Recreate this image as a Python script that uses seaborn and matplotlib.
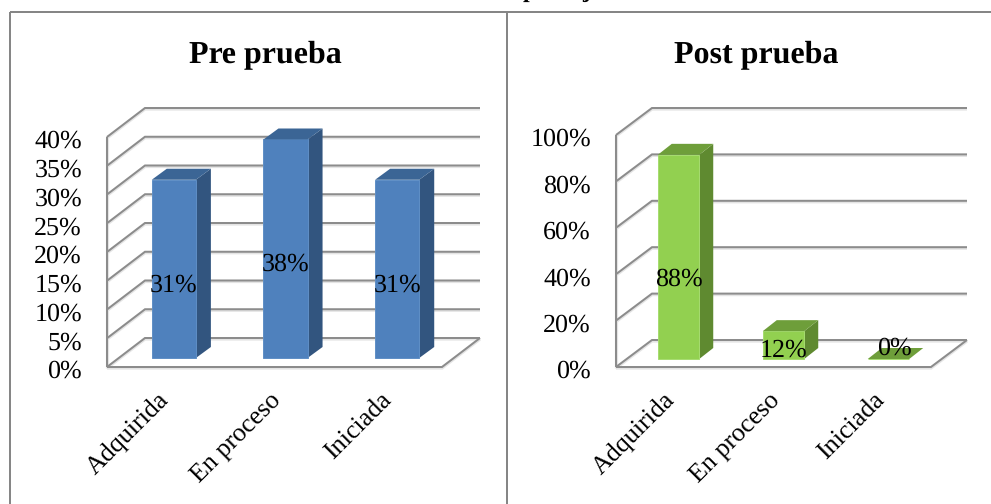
import matplotlib
matplotlib.use("Agg")
import matplotlib.pyplot as plt
from matplotlib.lines import Line2D
from matplotlib.patches import Polygon
from matplotlib.transforms import Affine2D
import pandas as pd
import seaborn as sns

categories = ["Adquirida", "En proceso", "Iniciada"]
pre_values = [31, 38, 31]
post_values = [88, 12, 0]
pre_ticks = [0, 5, 10, 15, 20, 25, 30, 35, 40]
post_ticks = [0, 20, 40, 60, 80, 100]

W, H = 991, 504
DPI = 100
GRID = "#8c8c8c"
FONT = 19
px = 72 / DPI  # one output pixel, in points

sns.set_theme(style="white")
plt.rcParams["font.family"] = ["Liberation Serif", "DejaVu Serif"]
plt.rcParams["text.hinting"] = "none"
plt.rcParams["text.hinting_factor"] = 1

fig = plt.figure(figsize=(W / DPI, H / DPI), dpi=DPI, facecolor="white")


def panel(title, values, ticks, box, depth, bar_shift, bar_depth, bar_width,
          colors, label_shift, title_x, tick_pad):
    left, right, top, bottom = box
    ax = fig.add_axes([left / W, 1 - bottom / H, (right - left) / W, (bottom - top) / H])
    frame = pd.DataFrame({"categoria": categories, "valor": values})
    sns.barplot(data=frame, x="categoria", y="valor", ax=ax, color=colors[0],
                saturation=1, width=bar_width, zorder=5, linewidth=0.7,
                edgecolor=colors[3], clip_on=False)
    ax.set_xlim(-0.5, 2.5)
    ax.set_ylim(ticks[0], ticks[-1])
    ax.patch.set_visible(False)
    sns.despine(ax=ax, left=True, bottom=True, right=True, top=True)

    # pixel-to-data factors, so depth can be given as a screen offset
    ux = 3 / (right - left)
    uy = ticks[-1] / (bottom - top)

    def to_data(offset):
        return offset[0] * ux, offset[1] * uy

    # wall and floor wireframe
    dx, dy = to_data(depth)
    x0, x1 = -0.5, 2.5

    def wire(xs, ys):
        for lw, col, shift in ((3.2, "#e4e4e4", -1.0 * uy), (2.0, GRID, 0)):
            ax.add_line(Line2D(xs, [y + shift for y in ys], lw=lw * px, color=col,
                               solid_capstyle="butt", solid_joinstyle="miter",
                               clip_on=False, zorder=1 if col != GRID else 2))

    for t in ticks:
        wire([x0, x0 + dx, x1 + dx], [t, t + dy, t + dy])
    wire([x0, x0], [ticks[0], ticks[-1]])
    wire([x0, x1, x1 + dx], [0, 0, dy])

    # bars: shift the fronts onto their floor plane, then add side and top faces
    sx, sy = to_data(bar_shift)
    bx, by = to_data(bar_depth)
    for patch, value, shift in zip(list(ax.patches), values, label_shift):
        xa = patch.get_x() + sx
        xb = xa + patch.get_width()
        patch.set_x(xa)
        patch.set_y(sy)
        patch.set_height(value)
        yt = sy + value
        ax.add_patch(Polygon([(xb, sy), (xb + bx, sy + by), (xb + bx, yt + by), (xb, yt)],
                             closed=True, fc=colors[1], ec="none", zorder=4, clip_on=False))
        ax.add_patch(Polygon([(xa, yt), (xb, yt), (xb + bx, yt + by), (xa + bx, yt + by)],
                             closed=True, fc=colors[2], ec="none", zorder=6, clip_on=False))
        xc = xa + patch.get_width() / 2
        ax.annotate(f"{value}%", (xc, sy + value / 2),
                    xytext=(shift[0] * px, shift[1] * px),
                    textcoords="offset points", ha="center", va="center",
                    fontsize=FONT, color="black", zorder=8, annotation_clip=False)

    ax.set_xlabel("")
    ax.set_ylabel("")
    ax.set_yticks(ticks)
    ax.set_yticklabels([f"{t}%" for t in ticks], fontsize=FONT, color="black")
    ax.set_xticks(range(len(categories)))
    ax.set_xticklabels(categories, fontsize=FONT, color="black", rotation=45,
                       ha="right", va="center", rotation_mode="anchor")
    ax.tick_params(axis="y", length=0, pad=tick_pad * px)
    ax.tick_params(axis="x", length=0, pad=29 * px)
    # nudge labels onto the optical centre of each tick
    for lab in ax.get_yticklabels():
        lab.set_transform(lab.get_transform() + Affine2D().translate(0, -2))
    for lab in ax.get_xticklabels():
        lab.set_transform(lab.get_transform() + Affine2D().translate(2, 0))
    fig.text(title_x / W, 1 - 55 / H, title, ha="center", va="center",
             fontsize=23, fontweight="bold", color="black")


panel("Pre prueba", pre_values, pre_ticks, (107, 442, 137, 367), (38, 29), (11, 9),
      (15, 11), 0.395, ("#4F81BD", "#32557F", "#3B6595", "#5F8FC6"),
      [(0, -17), (0, -16), (0, -17)], 265, 25)
panel("Post prueba", post_values, post_ticks, (616, 931, 135, 367), (36, 27), (10, 8),
      (14, 11), 0.395, ("#92D050", "#5F8A30", "#6E9E3A", "#A6DC70"),
      [(0, -22), (0, -5), (6, 11)], 756, 25)

# outer table rules
for xs, ys in (([9.5, W], [12, 12]), ([9.5, 9.5], [12, H]), ([507, 507], [12, H])):
    fig.add_artist(Line2D([x / W for x in xs], [1 - y / H for y in ys], lw=2 * px,
                          color="#868686", solid_capstyle="butt"))

# descenders of the line of text running off the top edge
for x, letter in ((529, "p"), (586, "j")):
    fig.text(x / W, 1 + 3 / H, letter, ha="center", va="baseline", fontsize=17,
             fontweight="bold", color="black")

fig.savefig("out.png", dpi=DPI, facecolor="white")
